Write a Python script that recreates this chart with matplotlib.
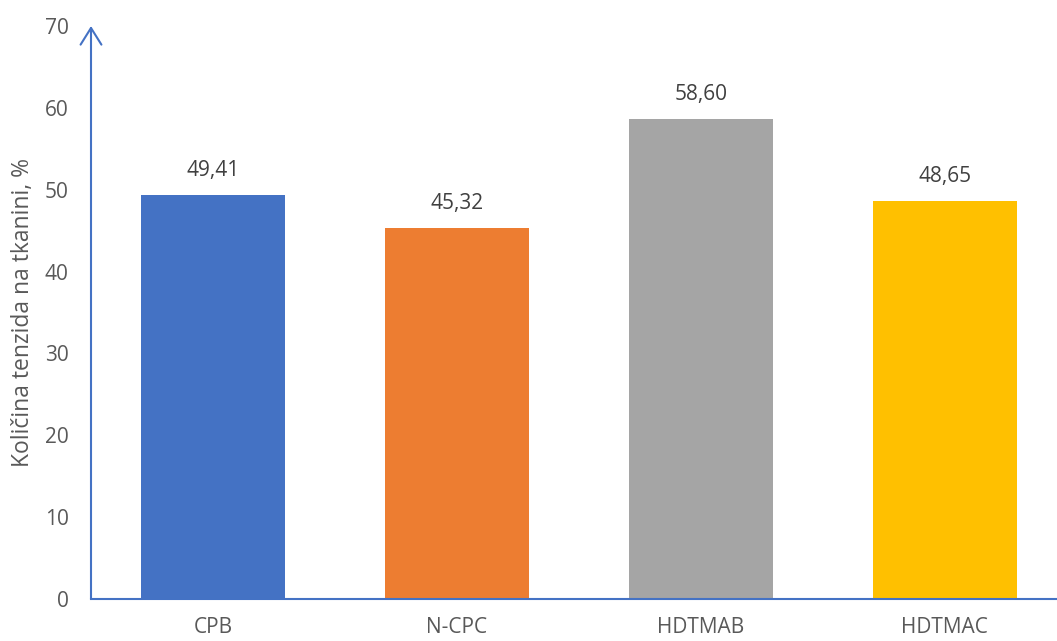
import matplotlib
matplotlib.use("Agg")
import matplotlib.pyplot as plt

categories = ["CPB", "N-CPC", "HDTMAB", "HDTMAC"]
values = [49.41, 45.32, 58.60, 48.65]
value_labels = ["49,41", "45,32", "58,60", "48,65"]
colors = ["#4472C4", "#ED7D31", "#A5A5A5", "#FFC000"]

plt.rcParams["font.family"] = ["Open Sans", "DejaVu Sans"]
text_color = "#595959"
axis_color = "#4472C4"

fig = plt.figure(figsize=(10.57, 6.41), dpi=100)
ax = fig.add_axes([91 / 1057, 42 / 641, 966 / 1057, 573 / 641])

x = range(len(categories))
bars = ax.bar(x, values, width=0.59, color=colors, zorder=2)

for xi, v, lab in zip(x, values, value_labels):
    ax.annotate(lab, xy=(xi, v), xytext=(0, 10), textcoords="offset points",
                ha="center", va="bottom", fontsize=15, color="#404040")

ax.set_xlim(-0.5, 3.46)
ax.set_ylim(0, 70)
ax.set_yticks(range(0, 71, 10))
ax.set_xticks(list(x))
ax.set_xticklabels(categories)
ax.tick_params(axis="both", length=0, labelsize=15, colors=text_color)
ax.tick_params(axis="y", pad=16)
ax.tick_params(axis="x", pad=13)
ax.set_ylabel("Količina tenzida na tkanini, %", fontsize=16.5, color=text_color, labelpad=7)

for side in ["top", "right", "left"]:
    ax.spines[side].set_visible(False)
ax.spines["bottom"].set_color(axis_color)
ax.spines["bottom"].set_linewidth(1.5)

ax.annotate("", xy=(0, 1), xytext=(0, 0), xycoords="axes fraction",
            arrowprops=dict(arrowstyle="->,head_length=1.2,head_width=0.75",
                            color=axis_color, lw=1.5, shrinkA=0, shrinkB=0))

fig.savefig("out.png", dpi=100)
